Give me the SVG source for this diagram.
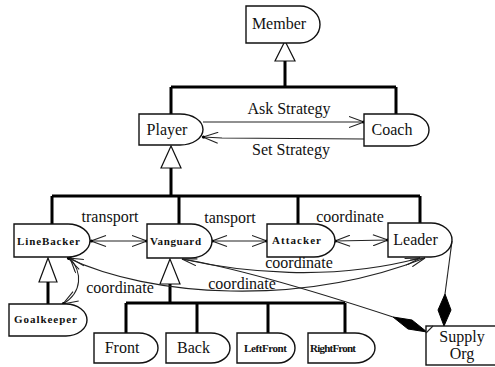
<svg xmlns="http://www.w3.org/2000/svg" width="495" height="367" viewBox="0 0 495 367">
<defs>
<style>
.node{fill:#fff;stroke:#111;stroke-width:1.4}
.tri{fill:#fff;stroke:#111;stroke-width:1.2}
.inh{fill:none;stroke:#000;stroke-width:3}
.con{fill:none;stroke:#222;stroke-width:1.1}
text{font-family:'Liberation Serif','DejaVu Serif','Times New Roman',serif}
.t{font-size:16px;fill:#111;text-anchor:middle}
.s{font-size:11px;font-weight:bold;fill:#111;text-anchor:middle}
.dia{fill:#000;stroke:#000;stroke-width:1}
</style>
<marker id="arr" viewBox="0 0 17 12" refX="15.5" refY="6" markerWidth="17" markerHeight="12" markerUnits="userSpaceOnUse" orient="auto-start-reverse">
<path d="M0.5,0.5 L15.5,6 L0.5,11.5" fill="none" stroke="#222" stroke-width="1.1"/>
<circle cx="15" cy="6" r="1.6" fill="#000"/>
</marker>
<marker id="arrn" viewBox="0 0 17 8" refX="15.5" refY="4" markerWidth="17" markerHeight="8" markerUnits="userSpaceOnUse" orient="auto-start-reverse">
<path d="M0.5,0.5 L15.5,4 L0.5,7.5" fill="none" stroke="#222" stroke-width="1.1"/>
</marker>
</defs>
<rect width="495" height="367" fill="#fff"/>

<g id="connectors">
<polygon class="tri" points="285,41 275,61 295,61"/>
<path class="inh" d="M285,61 V87 M171,87 H396 M171,87 V114 M396,87 V114"/>
<polygon class="tri" points="171,146 161,168 181,168"/>
<path class="inh" d="M171,168 V196 M52,196 H420 M52,196 V224 M179,196 V224 M298,196 V224 M420,196 V223"/>
<polygon class="tri" points="48,258 39,282 57,282"/>
<path class="inh" d="M48,282 V304"/>
<polygon class="tri" points="170,259 160,284 180,284"/>
<path class="inh" d="M170,284 V303 M126,303 H345 M126,303 V333 M197,303 V333 M268,303 V333 M345,303 V333"/>

<path class="con" d="M203,122 H364" marker-end="url(#arr)"/>
<path class="con" d="M364,139 L222,138 L203,137" marker-end="url(#arr)"/>
<path class="con" d="M91,241 H147" marker-start="url(#arr)" marker-end="url(#arr)"/>
<path class="con" d="M212,241 H267" marker-start="url(#arr)" marker-end="url(#arr)"/>
<path class="con" d="M335,241 L388,240" marker-start="url(#arr)" marker-end="url(#arr)"/>
<path class="con" d="M70,258 C82,272 83,292 63,304" marker-start="url(#arr)" marker-end="url(#arr)"/>
<path class="con" d="M68,258 C150,297 300,307 425,258" marker-start="url(#arr)" marker-end="url(#arrn)"/>
<path class="con" d="M182,259 C240,272 330,282 420,258" marker-start="url(#arrn)" marker-end="url(#arrn)"/>
<path class="con" d="M182,259 Q250,270 393,317"/>
<polygon class="dia" points="393,317 412,320 427,332 408,329"/>
<path class="con" d="M452,241 L445,294"/>
<polygon class="dia" points="445,294 451,310 444,326 438,310"/>

<text class="t" x="289" y="114">Ask Strategy</text>
<text class="t" x="291" y="155">Set Strategy</text>
<text class="t" x="110" y="222">transport</text>
<text class="t" x="230" y="223">tansport</text>
<text class="t" x="350" y="222">coordinate</text>
<text class="t" x="299" y="268">coordinate</text>
<text class="t" x="242" y="289">coordinate</text>
<text class="t" x="120" y="293">coordinate</text>
</g>

<g id="member"><path class="node" d="M246,6 H300 A20,18.5 0 0 1 300,43 H246 Z"/><text class="t" x="279" y="29">Member</text></g>
<g id="player"><path class="node" d="M139,114 H180 A23,15.5 0 0 1 180,145 H139 Z"/><text class="t" x="167" y="135">Player</text></g>
<g id="coach"><path class="node" d="M364,114 H409 A20,16 0 0 1 409,146 H364 Z"/><text class="t" x="392" y="135">Coach</text></g>
<g id="linebacker"><path class="node" d="M14,224 H68 A22,16.5 0 0 1 68,257 H14 Z"/><text class="s" x="48.5" y="245" textLength="63" lengthAdjust="spacing">LineBacker</text></g>
<g id="vanguard"><path class="node" d="M147,224 H191 A21,17 0 0 1 191,258 H147 Z"/><text class="s" x="175.5" y="245" textLength="51" lengthAdjust="spacing">Vanguard</text></g>
<g id="attacker"><path class="node" d="M267,224 H314 A21,16.5 0 0 1 314,257 H267 Z"/><text class="s" x="296.5" y="244" textLength="49" lengthAdjust="spacing">Attacker</text></g>
<g id="leader"><path class="node" d="M388,223 H431 A21,17 0 0 1 431,257 H388 Z"/><text class="t" x="415.5" y="245">Leader</text></g>
<g id="goalkeeper"><path class="node" d="M9,304 H66 A21,16 0 0 1 66,336 H9 Z"/><text class="s" x="45.5" y="323" textLength="63" lengthAdjust="spacing">Goalkeeper</text></g>
<g id="front"><path class="node" d="M94,333 H139 A19,15 0 0 1 139,363 H94 Z"/><text class="t" x="122" y="353">Front</text></g>
<g id="back"><path class="node" d="M166,333 H211 A19,15 0 0 1 211,363 H166 Z"/><text class="t" x="193.5" y="353">Back</text></g>
<g id="leftfront"><path class="node" d="M237,333 H278 A17,15 0 0 1 278,363 H237 Z"/><text class="s" x="265.5" y="352" textLength="43" lengthAdjust="spacing">LeftFront</text></g>
<g id="rightfront"><path class="node" d="M308,333 H355 A20,15 0 0 1 355,363 H308 Z"/><text class="s" x="333" y="352" textLength="46" lengthAdjust="spacing">RightFront</text></g>
<g id="supplyorg"><rect class="node" x="426" y="326" width="80" height="39"/><path class="con" d="M433,326 L426,333"/><text class="t" x="462" y="342">Supply</text><text class="t" x="462" y="359">Org</text></g>
</svg>
